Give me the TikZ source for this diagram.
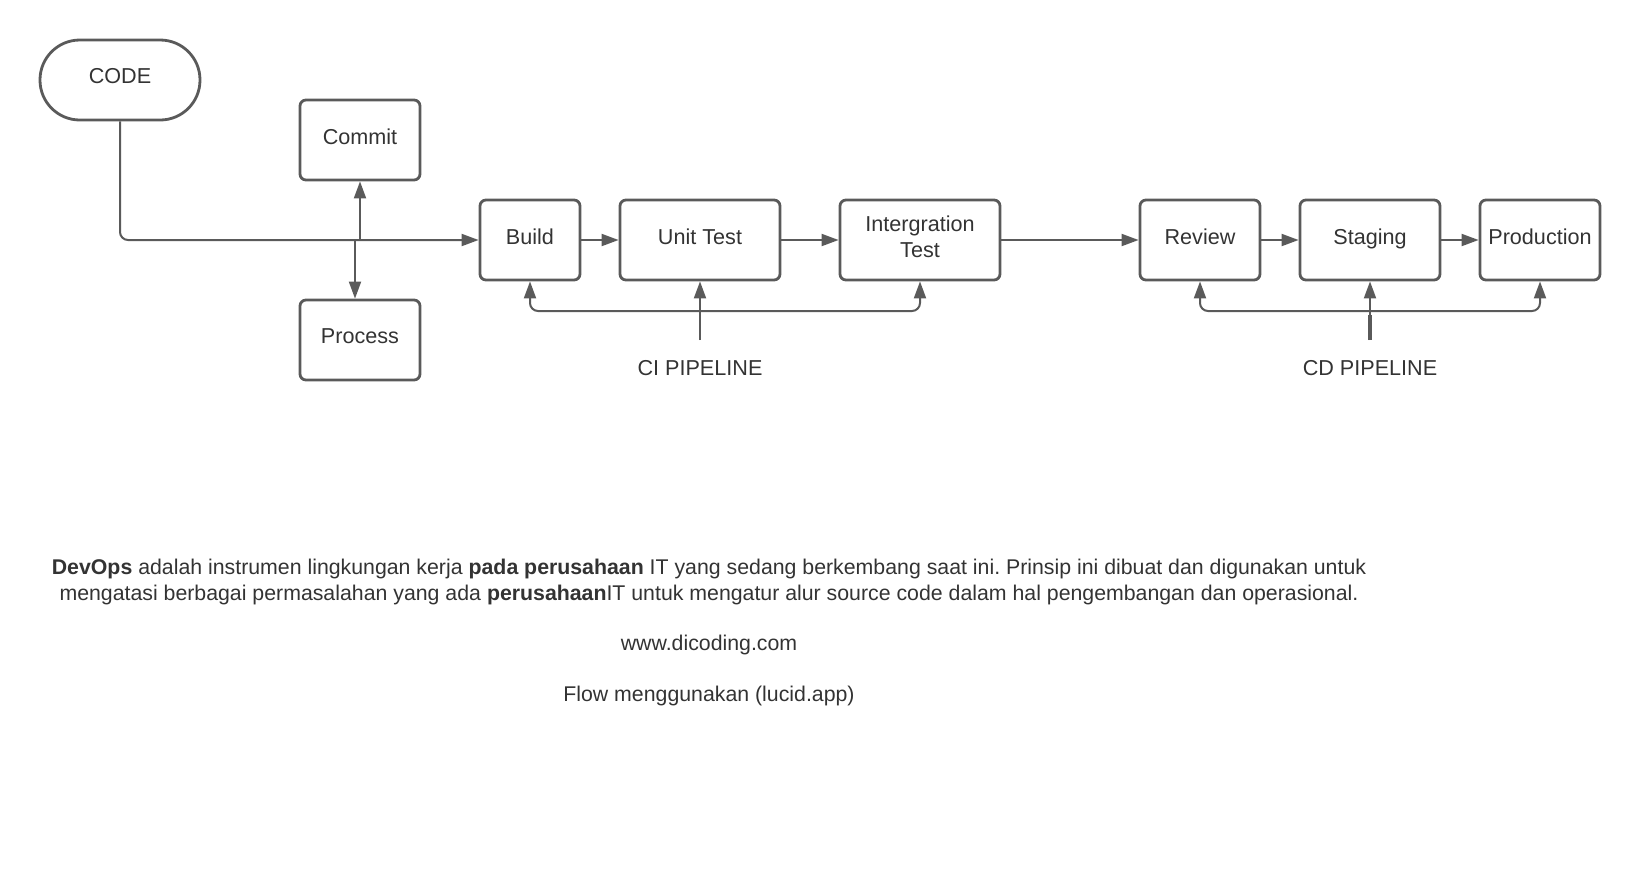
\documentclass[tikz,border=0pt]{standalone}
\usepackage{fontspec}
\setmainfont{Liberation Sans}
\usepackage{tikz}
\usetikzlibrary{
    arrows.meta,
    calc,
    positioning
}
\definecolor{linegray}{HTML}{5A5A5A}
\definecolor{textgray}{HTML}{333333}
\frenchspacing
\begin{document}
\begin{tikzpicture}[x=0.5pt, y=-0.5pt,
    every node/.style={text=textgray, font=\fontsize{10.8}{13}\selectfont},
    box/.style={draw=linegray, line width=1.4pt, rounded corners=3pt, minimum height=40pt, align=center, inner sep=2pt, text depth=3.6pt},
    term/.style={draw=linegray, line width=1.4pt, rounded corners=19.9pt, minimum height=40pt, minimum width=80pt, text depth=3.6pt},
    conn/.style={draw=linegray, line width=1pt, -{Triangle[length=8.5pt, width=6pt]}},
    stem/.style={draw=linegray, line width=1pt},
    body/.style={font=\fontsize{10.65}{13}\selectfont}]
                        \useasboundingbox (0, 0) rectangle (1640, 880);
                        \node[term] (code) at (120, 80) {CODE};
                        \node[box, minimum width=60pt] (commit) at (360, 140) {Commit};
                        \node[box, minimum width=60pt] (process) at (360, 340) {Process};
                        \node[box, minimum width=50pt] (build) at (530, 240) {Build};
                        \node[box, minimum width=80pt] (unit) at (700, 240) {Unit Test};
                        \node[box, minimum width=80pt] (integ) at (920, 240) {Intergration\\Test};
                        \node[box, minimum width=60pt] (review) at (1200, 240) {Review};
                        \node[box, minimum width=70pt] (staging) at (1370, 240) {Staging};
                        \node[box, minimum width=60pt] (prod) at (1540, 240) {Production};
                        \node (ci) at (700, 368) {CI PIPELINE};
                        \node (cd) at (1370, 368) {CD PIPELINE};
                        % split points and pipeline stems
                        \coordinate (up) at (360, 240);
                        \coordinate (down) at (355, 240);
                        \coordinate (cistem) at (700, 340);
                        \coordinate (cibar) at (700, 311);
                        \coordinate (cdstem) at (1370, 340);
                        \coordinate (cdbar) at (1370, 311);
                        \draw[conn, rounded corners=4pt] (code) |- (build);
                        \draw
                        (up) edge[conn] (commit)
                        (down) edge[conn] (down |- process.north)
                        (build) edge[conn] (unit)
                        (unit) edge[conn] (integ)
                        (integ) edge[conn] (review)
                        (review) edge[conn] (staging)
                        (staging) edge[conn] (prod)
                        (cistem) edge[conn] (unit)
                        (cdstem) edge[conn] (staging);
                        \draw[conn, rounded corners=4pt] (cibar) -| (build);
                        \draw[conn, rounded corners=4pt] (cibar) -| (integ);
                        \draw[conn, rounded corners=4pt] (cdbar) -| (review);
                        \draw[conn, rounded corners=4pt] (cdbar) -| (prod);
                        \draw[stem, line width=2pt] (cdstem) -- ($(cdbar)+(0, 4)$);
                        % description
                        \node[body, align=center] (desc) at (709, 582) {\textbf{DevOps} adalah instrumen lingkungan kerja \textbf{pada perusahaan} IT yang sedang berkembang saat ini. Prinsip ini dibuat dan digunakan untuk\\ mengatasi berbagai permasalahan yang ada \textbf{perusahaan}IT untuk mengatur alur source code dalam hal pengembangan dan operasional.};
                        \node[body] (web) at (709, 645) {www.dicoding.com};
                        \node[body] (flow) at (709, 696) {Flow menggunakan (lucid.app)};
                    \end{tikzpicture}
\end{document}
